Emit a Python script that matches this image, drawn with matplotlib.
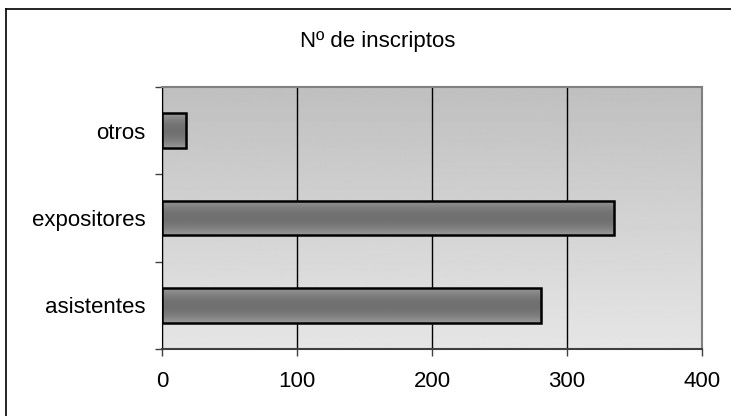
import numpy as np
import matplotlib
matplotlib.use("Agg")
import matplotlib.pyplot as plt
from matplotlib.lines import Line2D

categories = ["asistentes", "expositores", "otros"]
inscriptos = [281, 335, 18]
x_ticks = [0, 100, 200, 300, 400]
title = "Nº de inscriptos"

plt.rcParams["font.family"] = ["Liberation Sans", "DejaVu Sans"]
FS = 16

fig = plt.figure(figsize=(7.31, 4.16), dpi=100)
ax = fig.add_axes([162 / 731, 1 - 349 / 416, 540 / 731, 262 / 416])

ax.set_xlim(0, 400)
ax.set_ylim(-0.5, len(categories) - 0.5)

# plot area background: vertical gradient, darker at top
bg = np.linspace(0.90, 0.75, 256).reshape(-1, 1)
ax.imshow(bg, cmap="gray", vmin=0, vmax=1, aspect="auto",
          extent=[0, 400, -0.5, len(categories) - 0.5],
          origin="lower", zorder=0, interpolation="bilinear")

ax.set_xticks(x_ticks)
ax.xaxis.grid(True, color="black", linewidth=1)
ax.set_axisbelow(True)
for g in ax.get_xgridlines():
    g.set_zorder(1)

y = np.arange(len(categories))
bars = ax.barh(y, inscriptos, height=0.4, facecolor="none",
               edgecolor="black", linewidth=1.8, zorder=4)

# bar shading: lighter at edges, darker in the middle
t = np.linspace(-1, 1, 128)
shade = (0.44 + 0.17 * t ** 2).reshape(-1, 1)
for b in bars:
    x0, y0 = b.get_x(), b.get_y()
    im = ax.imshow(shade, cmap="gray", vmin=0, vmax=1, aspect="auto",
                   extent=[x0, x0 + b.get_width(), y0, y0 + b.get_height()],
                   origin="lower", zorder=3, interpolation="bilinear")
    im.set_clip_path(b)

ax.set_yticks(np.arange(-0.5, len(categories), 1.0))
ax.set_yticklabels([])
ax.set_yticks(y, minor=True)
ax.set_yticklabels(categories, minor=True, fontsize=FS)
ax.tick_params(axis="y", which="major", direction="out", length=5,
               width=1, color="#404040")
ax.tick_params(axis="y", which="minor", length=0, pad=12)
ax.tick_params(axis="x", direction="out", length=5, width=1,
               color="#404040", labelsize=FS, pad=11)

ax.spines["left"].set_color("black")
ax.spines["bottom"].set_color("#404040")
ax.spines["bottom"].set_linewidth(1.5)
ax.spines["top"].set_color("#808080")
ax.spines["top"].set_linewidth(1.5)
ax.spines["right"].set_color("#808080")
ax.spines["right"].set_linewidth(1.5)

fig.text(378 / 731, 1 - 41 / 416, title, ha="center", va="center",
         fontsize=FS)

# chart frame (only left and top visible in the crop)
fx, fy = 6 / 731, 1 - 9 / 416
fig.add_artist(Line2D([fx, fx], [0, fy], color="black", linewidth=1.2,
                      transform=fig.transFigure))
fig.add_artist(Line2D([fx, 1], [fy, fy], color="black", linewidth=1.2,
                      transform=fig.transFigure))

fig.savefig("out.png", dpi=100)
